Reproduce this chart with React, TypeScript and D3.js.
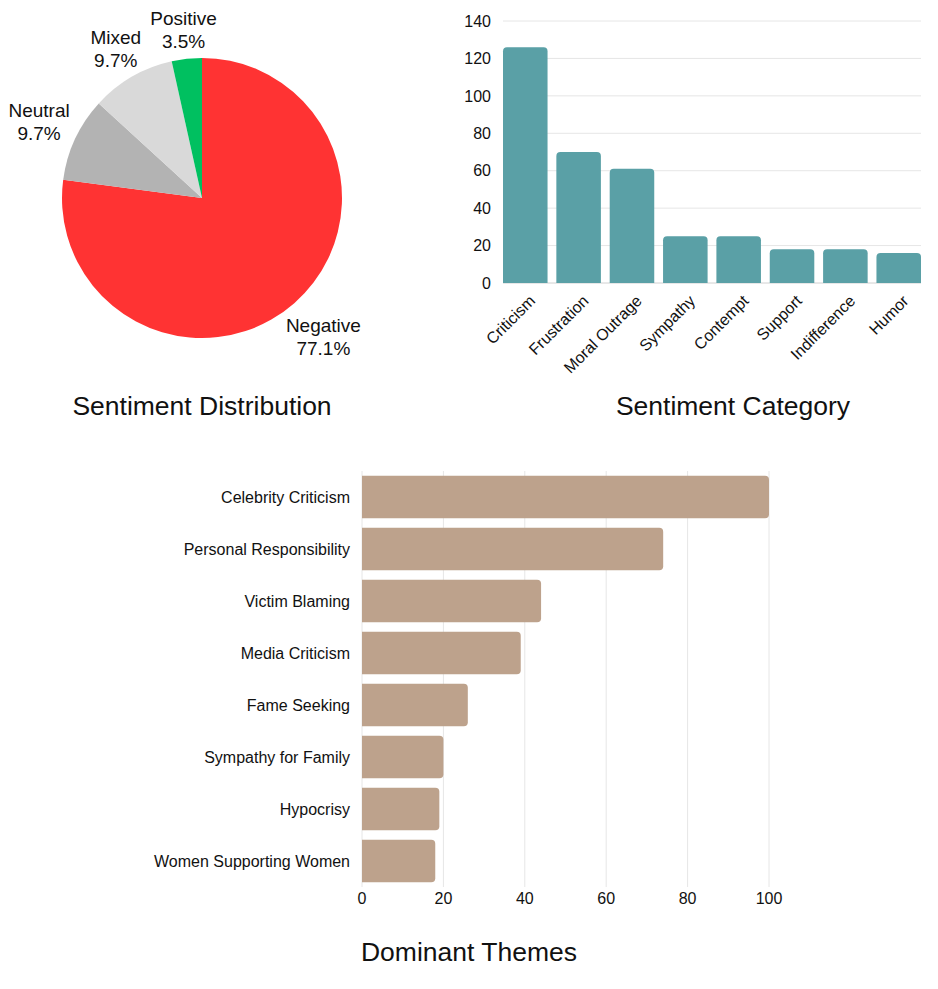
import * as d3 from "d3";

// sentiment distribution (pie)
const sentimentLabels = ["Negative", "Neutral", "Mixed", "Positive"];
const sentimentCounts = [111, 14, 14, 5];
const sentimentColors = ["#ff3333", "#b3b3b3", "#d9d9d9", "#00c060"];

// sentiment category (vertical bars)
const categoryLabels = [
  "Criticism",
  "Frustration",
  "Moral Outrage",
  "Sympathy",
  "Contempt",
  "Support",
  "Indifference",
  "Humor",
];
const categoryValues = [126, 70, 61, 25, 25, 18, 18, 16];
const categoryTicks = [0, 20, 40, 60, 80, 100, 120, 140];

// dominant themes (horizontal bars)
const themeLabels = [
  "Celebrity Criticism",
  "Personal Responsibility",
  "Victim Blaming",
  "Media Criticism",
  "Fame Seeking",
  "Sympathy for Family",
  "Hypocrisy",
  "Women Supporting Women",
];
const themeValues = [100, 74, 44, 39, 26, 20, 19, 18];
const themeTicks = [0, 20, 40, 60, 80, 100];

const FONT = "'Liberation Sans', Arial, Helvetica, sans-serif";
const GRID = "#e6e6e6";
const INK = "#111";

let measureCtx: CanvasRenderingContext2D | null = null;
function textWidth(s: string, size: number) {
  if (!measureCtx) measureCtx = document.createElement("canvas").getContext("2d");
  if (!measureCtx) return s.length * size * 0.55;
  measureCtx.font = `${size}px 'Liberation Sans', Arial, sans-serif`;
  return measureCtx.measureText(s).width;
}

// rect with only the top corners rounded
function topRounded(x: number, y: number, w: number, h: number, r: number) {
  const rr = Math.min(r, w / 2, h);
  return `M${x},${y + h}V${y + rr}Q${x},${y} ${x + rr},${y}H${x + w - rr}Q${x + w},${y} ${x + w},${y + rr}V${y + h}Z`;
}

// rect with only the right corners rounded
function rightRounded(x: number, y: number, w: number, h: number, r: number) {
  const rr = Math.min(r, h / 2, w);
  return `M${x},${y}H${x + w - rr}Q${x + w},${y} ${x + w},${y + rr}V${y + h - rr}Q${x + w},${y + h} ${x + w - rr},${y + h}H${x}Z`;
}

function SentimentPie() {
  const cx = 202;
  const cy = 198;
  const radius = 140;
  const fs = 19;
  const lineH = 23;
  const total = d3.sum(sentimentCounts);
  const arcs = d3.pie<number>().sort(null)(sentimentCounts);
  const arc = d3.arc<d3.PieArcDatum<number>>().innerRadius(0).outerRadius(radius);

  return (
    <g fontFamily={FONT}>
      <g transform={`translate(${cx},${cy})`}>
        {arcs.map((a, i) => (
          <path key={i} d={arc(a) ?? ""} fill={sentimentColors[i]} />
        ))}
        {arcs.map((a, i) => {
          const mid = (a.startAngle + a.endAngle) / 2;
          const dx = Math.sin(mid);
          const dy = -Math.cos(mid);
          const pct = ((sentimentCounts[i] / total) * 100).toFixed(1) + "%";
          // push the label box outward until its edge sits just outside the pie
          const w = Math.max(textWidth(sentimentLabels[i], fs), textWidth(pct, fs));
          const h = lineH * 2;
          const edge = Math.min(
            Math.abs(dx) > 1e-6 ? w / 2 / Math.abs(dx) : Infinity,
            Math.abs(dy) > 1e-6 ? h / 2 / Math.abs(dy) : Infinity
          );
          const dist = radius + 6 + edge + Math.max(0, dy) * 10;
          const lx = dx * dist;
          const ly = dy * dist;
          return (
            <text key={i} textAnchor="middle" fontSize={fs} fill={INK}>
              <tspan x={lx} y={ly - lineH / 2 + fs * 0.36}>{sentimentLabels[i]}</tspan>
              <tspan x={lx} y={ly + lineH / 2 + fs * 0.36}>{pct}</tspan>
            </text>
          );
        })}
      </g>
      <text x={cx} y={415} textAnchor="middle" fontSize={26.5} fill={INK}>
        Sentiment Distribution
      </text>
    </g>
  );
}

function CategoryBars() {
  const x = d3.scaleBand<string>().domain(categoryLabels).range([503, 921]).paddingInner(0.165).paddingOuter(0);
  const y = d3.scaleLinear().domain([0, 140]).range([283, 21]);

  return (
    <g fontFamily={FONT}>
      {categoryTicks.map((t) => (
        <g key={t}>
          <line x1={503} x2={921} y1={y(t)} y2={y(t)} stroke={t === 0 ? "#d0d0d0" : GRID} strokeWidth={1} />
          <text x={491} y={y(t)} dy="0.36em" textAnchor="end" fontSize={16} fill={INK}>
            {t}
          </text>
        </g>
      ))}
      {categoryValues.map((v, i) => {
        const bx = x(categoryLabels[i]) ?? 0;
        return (
          <path key={i} d={topRounded(bx, y(v), x.bandwidth(), y(0) - y(v), 4)} fill="#5aa0a6" />
        );
      })}
      {categoryLabels.map((c) => {
        const tx = (x(c) ?? 0) + x.bandwidth() / 2 + 3;
        const ty = 294;
        return (
          <text
            key={c}
            x={tx}
            y={ty}
            transform={`rotate(-45 ${tx} ${ty})`}
            textAnchor="end"
            dy="0.7em"
            fontSize={16}
            fill={INK}
          >
            {c}
          </text>
        );
      })}
      <text x={733} y={415} textAnchor="middle" fontSize={26.5} fill={INK}>
        Sentiment Category
      </text>
    </g>
  );
}

function ThemeBars() {
  const x = d3.scaleLinear().domain([0, 100]).range([362, 769]);
  const y = d3.scaleBand<string>().domain(themeLabels).range([471, 887]).paddingInner(0.183).paddingOuter(0.0915);

  return (
    <g fontFamily={FONT}>
      {themeTicks.map((t) => (
        <g key={t}>
          <line x1={x(t)} x2={x(t)} y1={471} y2={887} stroke={GRID} strokeWidth={1} />
          <text x={x(t)} y={904} textAnchor="middle" fontSize={16} fill={INK}>
            {t}
          </text>
        </g>
      ))}
      {themeValues.map((v, i) => {
        const by = y(themeLabels[i]) ?? 0;
        return (
          <path key={i} d={rightRounded(x(0), by, x(v) - x(0), y.bandwidth(), 4)} fill="#bda28c" />
        );
      })}
      {themeLabels.map((l) => (
        <text
          key={l}
          x={350}
          y={(y(l) ?? 0) + y.bandwidth() / 2}
          dy="0.35em"
          textAnchor="end"
          fontSize={16}
          fill={INK}
        >
          {l}
        </text>
      ))}
      <text x={469} y={961} textAnchor="middle" fontSize={26.5} fill={INK}>
        Dominant Themes
      </text>
    </g>
  );
}

export default function App() {
  return (
    <svg
      width={938}
      height={989}
      style={{ position: "absolute", left: 0, top: 0, background: "#fff" }}
    >
      <rect width={938} height={989} fill="#fff" />
      <SentimentPie />
      <CategoryBars />
      <ThemeBars />
    </svg>
  );
}
